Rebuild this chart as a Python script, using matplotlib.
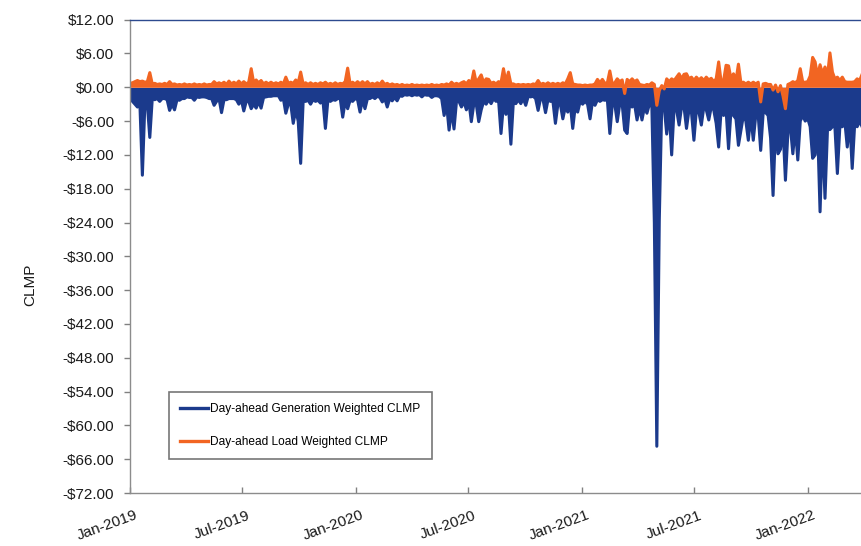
import matplotlib
matplotlib.use("Agg")
import matplotlib.pyplot as plt
import matplotlib.dates as mdates
import matplotlib.transforms as mtransforms
from matplotlib.ticker import FuncFormatter
import pandas as pd

plt.rcParams['font.family'] = ['Liberation Sans', 'DejaVu Sans']

# Values, one point every 4 days from 1 Jan 2019
start = '2019-01-01'
gen_weighted = [
    -2.0, -2.5, -3.0, -3.5, -3.0, -15.6, -3.0, -3.0, -8.9, -2.0,
    -2.2, -2.0, -2.5, -2.0, -2.0, -2.2, -4.1, -3.0, -4.0, -2.2,
    -2.3, -2.0, -2.0, -1.7, -1.8, -1.8, -2.3, -1.7, -1.8, -1.7,
    -1.7, -1.8, -2.0, -2.0, -3.2, -2.5, -2.0, -4.5, -2.2, -2.2,
    -2.0, -2.0, -2.0, -2.2, -3.0, -2.2, -4.2, -2.5, -2.5, -3.8,
    -3.0, -3.7, -2.5, -3.7, -1.8, -1.7, -1.6, -1.6, -1.5, -1.5,
    -1.5, -2.3, -2.0, -4.6, -3.0, -3.0, -6.4, -4.0, -6.0, -13.5,
    -2.5, -2.5, -2.3, -3.0, -2.2, -2.5, -2.3, -2.8, -2.3, -7.3,
    -2.3, -2.5, -2.2, -2.3, -2.0, -2.0, -5.3, -2.5, -3.8, -2.3,
    -2.5, -2.0, -2.2, -4.4, -2.2, -3.8, -2.0, -2.0, -1.7, -2.0,
    -1.6, -1.8, -2.6, -2.0, -3.5, -2.0, -2.4, -1.8, -2.4, -1.5,
    -1.6, -1.3, -1.4, -1.3, -1.5, -1.3, -1.4, -1.3, -1.7, -1.3,
    -1.4, -1.4, -1.8, -1.5, -1.5, -1.6, -2.0, -5.0, -3.0, -7.6,
    -4.0, -7.4, -2.5, -2.5, -3.5, -2.5, -4.0, -2.5, -6.1, -3.0,
    -3.0, -6.1, -4.0, -2.5, -3.0, -2.2, -2.9, -2.0, -2.5, -2.2,
    -8.2, -3.0, -4.8, -3.0, -10.1, -2.5, -2.9, -2.2, -2.9, -2.0,
    -3.2, -1.6, -1.7, -1.6, -2.0, -4.1, -2.0, -2.2, -4.5, -2.2,
    -2.5, -2.5, -6.4, -3.0, -3.0, -5.6, -3.5, -4.4, -3.0, -7.3,
    -3.5, -4.4, -2.5, -3.0, -2.5, -3.0, -5.6, -2.5, -3.2, -2.2,
    -2.5, -2.2, -2.3, -2.2, -8.2, -3.0, -3.0, -6.1, -3.0, -3.0,
    -7.6, -8.2, -3.0, -3.5, -3.0, -5.8, -3.5, -5.8, -3.5, -4.6,
    -3.0, -3.5, -24.0, -63.7, -23.5, -3.0, -3.5, -8.3, -4.0, -12.0,
    -3.5, -4.0, -6.7, -3.5, -3.5, -7.3, -4.0, -4.4, -9.4, -4.0,
    -4.4, -6.7, -3.5, -4.0, -5.8, -3.5, -4.0, -6.4, -10.6, -4.0,
    -5.0, -4.0, -10.9, -4.0, -5.0, -5.6, -10.3, -7.6, -5.0, -6.0,
    -9.4, -5.0, -9.4, -5.0, -5.0, -11.2, -4.5, -4.5, -5.0, -9.0,
    -19.2, -7.0, -11.8, -11.0, -7.0, -16.5, -8.0, -7.0, -11.8, -7.0,
    -12.9, -6.0, -5.0, -6.0, -5.5, -7.0, -12.6, -12.0, -7.0, -22.1,
    -8.0, -19.7, -7.5, -7.5, -7.0, -7.0, -15.3, -7.0, -7.0, -6.0,
    -10.6, -6.0, -14.4, -6.5, -7.0, -6.0, -7.0,
]
load_weighted = [
    0.7, 0.8, 1.0, 1.2, 1.0, 1.1, 0.9, 1.0, 2.6, 0.6,
    0.7, 0.5, 0.6, 0.5, 0.7, 0.5, 1.0, 0.5, 0.6, 0.4,
    0.5, 0.4, 0.6, 0.4, 0.5, 0.4, 0.6, 0.4, 0.5, 0.4,
    0.6, 0.4, 0.5, 0.5, 1.0, 0.6, 0.8, 0.6, 0.9, 0.5,
    1.1, 0.6, 0.9, 0.6, 1.1, 0.6, 1.0, 0.6, 0.9, 3.3,
    0.8, 1.3, 0.8, 1.2, 0.6, 0.9, 0.6, 0.9, 0.6, 0.8,
    0.6, 0.9, 0.6, 1.8, 0.7, 0.9, 0.7, 1.3, 0.8, 2.7,
    0.6, 0.8, 0.5, 0.8, 0.5, 0.7, 0.5, 0.8, 0.6, 0.9,
    0.5, 0.7, 0.5, 0.8, 0.5, 0.7, 0.6, 1.0, 3.4, 0.6,
    0.9, 0.6, 1.0, 0.6, 1.0, 0.6, 1.0, 0.5, 0.7, 0.5,
    0.8, 0.5, 1.1, 0.5, 0.7, 0.4, 0.6, 0.4, 0.5, 0.3,
    0.5, 0.3, 0.4, 0.3, 0.5, 0.3, 0.4, 0.3, 0.4, 0.3,
    0.4, 0.3, 0.5, 0.3, 0.4, 0.3, 0.5, 0.4, 0.6, 0.4,
    0.9, 0.5, 0.7, 0.5, 0.8, 1.0, 0.6, 1.2, 0.7, 2.9,
    0.8, 1.5, 2.2, 0.8, 1.5, 1.4, 0.7, 0.9, 0.6, 1.0,
    0.8, 3.3, 0.9, 2.7, 0.6, 0.6, 0.4, 0.5, 0.4, 0.5,
    0.4, 0.5, 0.4, 0.6, 0.5, 1.2, 0.5, 0.7, 0.5, 0.8,
    0.5, 0.7, 0.5, 0.7, 0.5, 0.8, 0.6, 1.5, 2.6, 0.6,
    0.5, 0.4, 0.4, 0.3, 0.4, 0.3, 0.4, 0.4, 0.6, 1.4,
    0.8, 1.4, 0.7, 0.8, 2.9, 0.6, 0.8, 1.5, 1.0, 1.3,
    -1.1, 1.4, 1.0, 1.5, 1.0, 1.3, 0.5, 0.4, 0.3, 0.5,
    0.4, 0.8, 0.5, -3.2, -0.6, 0.3, -0.3, 1.5, 1.0, 1.5,
    1.2, 1.8, 2.4, 1.5, 2.3, 2.4, 1.5, 1.8, 1.2, 1.8,
    1.3, 1.7, 1.2, 1.8, 1.3, 1.6, 1.0, 1.5, 4.5, 1.0,
    1.2, 3.9, 3.8, 1.5, 2.4, 1.2, 4.1, 0.8, 0.9, 0.6,
    0.9, 0.6, 0.9, 0.6, 0.9, -2.6, 0.6, 0.7, 0.5, 0.5,
    -0.5, 0.4, -0.8, 0.3, -1.5, -3.8, 0.5, 0.7, 1.0, 0.8,
    1.2, 3.3, 0.9, 0.9, 1.0, 2.0, 5.3, 4.5, 2.0, 4.0,
    2.4, 3.6, 2.0, 6.1, 2.7, 1.5, 1.8, 1.2, 1.8, 1.0,
    0.9, 0.9, 0.9, 1.0, 1.5, 1.2, 2.3,
]
series_names = ['Day-ahead Generation Weighted CLMP', 'Day-ahead Load Weighted CLMP']
colors = ['#1b3a8c', '#f26522']

gen_dates = pd.date_range(start, periods=len(gen_weighted), freq='4D')
load_dates = pd.date_range(start, periods=len(load_weighted), freq='4D')

fig = plt.figure(figsize=(8.61, 5.46), dpi=100)
ax = fig.add_axes([0.151, 0.097, 0.851, 0.867])

# the daily series is so dense that it reads as a solid band down to zero
ax.fill_between(gen_dates, gen_weighted, 0, color=colors[0], linewidth=0)
ax.plot(gen_dates, gen_weighted, color=colors[0], linewidth=2.2, label=series_names[0])
ax.fill_between(load_dates, load_weighted, 0, color=colors[1], linewidth=0)
ax.plot(load_dates, load_weighted, color=colors[1], linewidth=2.2, label=series_names[1])

ax.set_ylim(-72, 12)
ax.set_yticks(range(-72, 13, 6))
ax.yaxis.set_major_formatter(FuncFormatter(
    lambda v, p: ('-$%.2f' % abs(v)) if v < 0 else ('$%.2f' % v)))
ax.set_xlim(pd.Timestamp('2019-01-01'), pd.Timestamp('2022-03-31'))
ax.xaxis.set_major_locator(mdates.MonthLocator(bymonth=[1, 7]))
ax.xaxis.set_major_formatter(mdates.DateFormatter('%b-%Y'))

ax.tick_params(axis='y', direction='out', length=4, width=1, color='#808080',
               labelsize=11, pad=7.5, labelcolor='#1a1a1a')
ax.tick_params(axis='x', direction='in', length=4, width=1, color='#808080',
               labelsize=11, pad=8, labelcolor='#1a1a1a')
shift = mtransforms.ScaledTranslation(0.10, -0.04, fig.dpi_scale_trans)
for lbl in ax.get_xticklabels():
    lbl.set_rotation(20)
    lbl.set_ha('right')
    lbl.set_transform(lbl.get_transform() + shift)

ax.spines['right'].set_visible(False)
ax.spines['top'].set_color('#2d4a8f')
ax.spines['left'].set_color('#8c8c8c')
ax.spines['bottom'].set_color('#8c8c8c')
for s in ax.spines.values():
    s.set_linewidth(1.0)

ax.set_ylabel('CLMP', fontsize=11, color='#1a1a1a')
ax.yaxis.set_label_coords(-0.127, 0.44)

leg = ax.legend(loc='lower left', bbox_to_anchor=(0.0534, 0.0718), borderaxespad=0,
                fontsize=8.6, frameon=True, fancybox=False, edgecolor='#555555',
                handlelength=2.3, handletextpad=0.2, labelspacing=1.7,
                borderpad=0.95)
leg.get_frame().set_linewidth(1.2)
for line in leg.get_lines():
    line.set_linewidth(2.4)

fig.savefig('out.png', dpi=100)
